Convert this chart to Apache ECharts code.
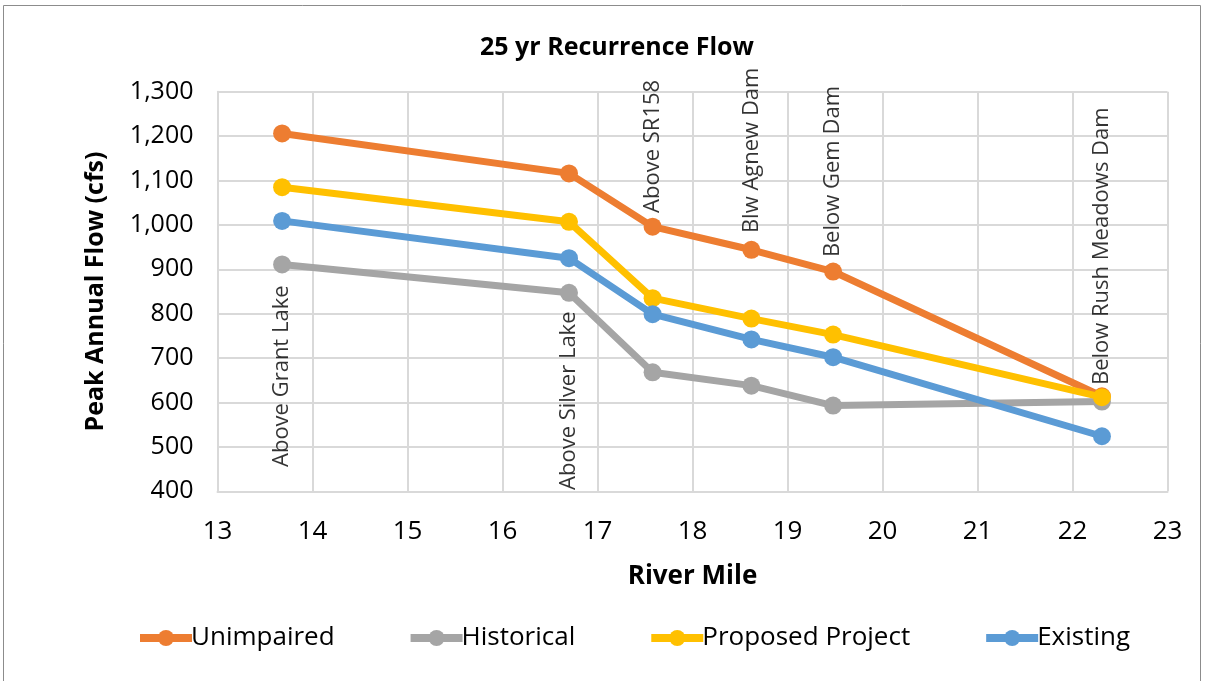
<!DOCTYPE html>
<html>
<head>
<meta charset="utf-8">
<script src="https://cdn.jsdelivr.net/npm/echarts@6/dist/echarts.min.js"></script>
<style>
  html, body { margin: 0; padding: 0; background: #fff; }
  #chart { width: 1207px; height: 681px; }
</style>
</head>
<body>
<div id="chart"></div>
<script>
// River mile of each gauging location
const riverMile = [13.68, 16.70, 17.58, 18.62, 19.48, 22.31];

// 25-year recurrence peak annual flow (cfs) per scenario
const unimpaired = [1206, 1116, 996, 944, 895, 614];
const historical = [911, 847, 668, 638, 593, 602];
const proposed   = [1085, 1007, 835, 789, 753, 612];
const existing   = [1009, 925, 799, 742, 702, 524];

// Station names and the flow level where each vertical name starts
const stationNames = ['Above Grant Lake', 'Above Silver Lake', 'Above SR158',
                      'Blw Agnew Dam', 'Below Gem Dam', 'Below Rush Meadows Dam'];
const stationLabelBase = [466, 403, 1027, 977, 932, 655];

const seriesNames = ['Unimpaired', 'Historical', 'Proposed Project', 'Existing'];
const seriesValues = [unimpaired, historical, proposed, existing];
const seriesColors = ['#ED7D31', '#A5A5A5', '#FFC000', '#5B9BD5'];

const FONT = 'Open Sans';

// small horizontal nudges for the station names (px)
const stationNudge = [-5, 0, 0, 2, -2, -7];

const pairs = (xs, ys) => xs.map((x, i) => [x, ys[i]]);

const lineSeries = seriesNames.map((name, i) => ({
  name,
  type: 'line',
  data: pairs(riverMile, seriesValues[i]),
  symbol: 'circle',
  symbolSize: 18,
  lineStyle: { width: 7, color: seriesColors[i] },
  itemStyle: { color: seriesColors[i] },
  emphasis: { disabled: true },
  z: 3 + i
}));

const stationSeries = {
  name: 'stations',
  type: 'scatter',
  data: pairs(riverMile, stationLabelBase).map((p, i) => ({
    value: p,
    name: stationNames[i],
    label: { offset: [stationNudge[i], 0] }
  })),
  symbolSize: 0,
  silent: true,
  z: 2,
  label: {
    show: true,
    position: 'inside',
    formatter: p => p.name,
    rotate: 90,
    align: 'left',
    verticalAlign: 'middle',
    fontFamily: FONT,
    fontSize: 22,
    color: '#000'
  }
};

const chart = echarts.init(document.getElementById('chart'));
chart.setOption({
  animation: false,
  backgroundColor: '#fff',
  title: {
    text: '25 yr Recurrence Flow',
    left: 612,
    textAlign: 'center',
    top: 30,
    textStyle: { fontFamily: FONT, fontSize: 25, fontWeight: 'bold', color: '#000' }
  },
  grid: { left: 217.5, right: 39.5, top: 91.7, bottom: 189.7, containLabel: false },
  xAxis: {
    type: 'value',
    min: 13, max: 23, interval: 1,
    name: 'River Mile',
    nameLocation: 'middle',
    nameGap: 72,
    nameTextStyle: { fontFamily: FONT, fontSize: 26, fontWeight: 'bold', color: '#000' },
    axisLine: { show: true, lineStyle: { color: '#d9d9d9', width: 2 } },
    axisTick: { show: false },
    axisLabel: { fontFamily: FONT, fontSize: 26, color: '#000', margin: 27 },
    splitLine: { show: true, lineStyle: { color: '#d9d9d9', width: 2 } }
  },
  yAxis: {
    type: 'value',
    min: 400, max: 1300, interval: 100,
    name: 'Peak Annual Flow (cfs)',
    nameLocation: 'middle',
    nameGap: 109,
    nameRotate: 90,
    nameTextStyle: { fontFamily: FONT, fontSize: 25, fontWeight: 'bold', color: '#000' },
    axisLine: { show: true, lineStyle: { color: '#d9d9d9', width: 2 } },
    axisTick: { show: false },
    axisLabel: {
      fontFamily: FONT, fontSize: 25, color: '#000', margin: 24,
      formatter: v => v.toLocaleString('en-US')
    },
    splitLine: { show: true, lineStyle: { color: '#d9d9d9', width: 2 } }
  },
  legend: {
    data: seriesNames,
    left: 131,
    top: 620,
    itemWidth: 52,
    itemHeight: 20,
    itemGap: 72,
    lineStyle: { width: 8 },
    textStyle: { fontFamily: FONT, fontSize: 26, color: '#000', padding: [0, 0, 0, -6] }
  },
  graphic: [{
    type: 'rect',
    shape: { x: 3.5, y: 5.5, width: 1197, height: 680 },
    style: { fill: 'none', stroke: '#8c8c8c', lineWidth: 1 },
    silent: true,
    z: -1
  }],
  series: [stationSeries, ...lineSeries]
});
</script>
</body>
</html>
